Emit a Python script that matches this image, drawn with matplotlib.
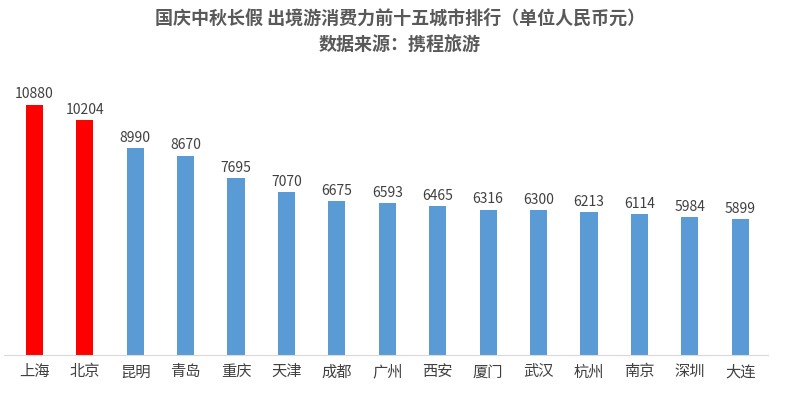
import matplotlib.pyplot as plt

plt.rcParams['font.family'] = ['Noto Sans CJK SC', 'DejaVu Sans']

cities = ['上海', '北京', '昆明', '青岛', '重庆', '天津', '成都', '广州', '西安',
          '厦门', '武汉', '杭州', '南京', '深圳', '大连']
values = [10880, 10204, 8990, 8670, 7695, 7070, 6675, 6593, 6465,
          6316, 6300, 6213, 6114, 5984, 5899]
colors = ['#ff0000'] * 2 + ['#5b9bd5'] * 13

fig = plt.figure(figsize=(8, 4.09), dpi=100)
ax = fig.add_axes([0.005, 0.132, 0.955, 0.68])
x = range(len(cities))
ax.bar(x, values, width=0.34, color=colors)
for i, v in zip(x, values):
    ax.text(i, v + 150, str(v), ha='center', va='bottom', fontsize=10, color='#404040')
ax.set_xlim(-0.6, len(cities) - 0.45)
ax.set_ylim(0, 10880 / 0.9)
ax.set_xticks(list(x))
ax.set_xticklabels(cities, fontsize=11, color='#404040')
ax.tick_params(axis='x', length=0, pad=6)
ax.set_yticks([])
for s in ['top', 'right', 'left']:
    ax.spines[s].set_visible(False)
ax.spines['bottom'].set_color('#d9d9d9')
fig.text(0.5, 0.955, '国庆中秋长假 出境游消费力前十五城市排行（单位人民币元）',
         ha='center', va='center', fontsize=13, fontweight='bold', color='#595959')
fig.text(0.5, 0.89, '数据来源：携程旅游', ha='center', va='center',
         fontsize=13, fontweight='bold', color='#595959')
fig.savefig('out.png')
